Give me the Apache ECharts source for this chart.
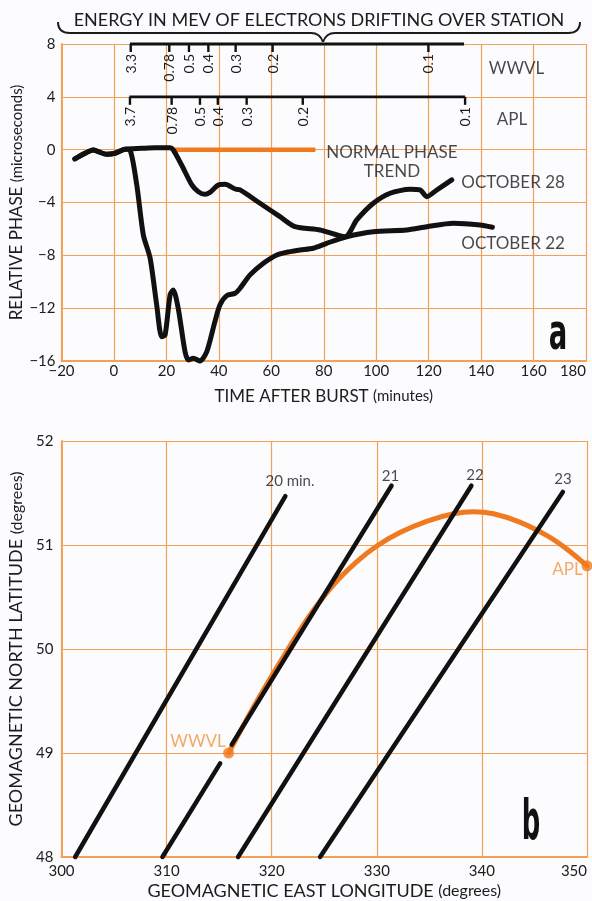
<!DOCTYPE html>
<html>
<head>
<meta charset="utf-8">
<title>Electron drift and VLF phase</title>
<script src="https://cdn.jsdelivr.net/npm/echarts@6/dist/echarts.min.js"></script>
<style>
  html, body { margin: 0; padding: 0; background: #fcfbfd; }
  #chart { width: 592px; height: 901px; }
</style>
</head>
<body>
<div id="chart"></div>
<script>
// ---------- Panel a: relative phase records (microseconds) ----------
const oct22Time  = [-14.9, -11.0, -7.9, -6.0, -2.8, 0.4, 4.2, 6.1, 8.7, 11.2, 13.8, 16.3, 18.2, 19.5, 21.4, 22.6, 24.5,
                    27.1, 28.4, 30.3, 32.8, 35.4, 38.5, 40.4, 43.0, 46.2, 48.1, 51.9, 57.0, 62.1, 67.1, 71.0, 76.0,
                    81.1, 88.7, 98.9, 111.6, 119.3, 129.4, 139.6, 144.3];
const oct22Phase = [-0.70, -0.27, -0.02, -0.15, -0.35, -0.27, 0.03, -0.02, -2.67, -6.46, -8.22, -11.76, -14.16, -14.03, -11.00, -10.62, -12.00,
                    -15.29, -15.92, -15.79, -16.0, -15.29, -13.02, -11.76, -11.05, -10.87, -10.49, -9.48, -8.60, -7.97, -7.72, -7.59, -7.46,
                    -7.09, -6.59, -6.21, -6.08, -5.83, -5.57, -5.70, -5.87];

const oct28Time  = [-14.9, -11.0, -7.9, -6.0, -2.8, 0.4, 4.2, 10.6, 15.7, 21.4, 22.6, 25.8, 29.7, 32.2, 34.7, 36.6, 39.8,
                    42.4, 46.2, 48.1, 55.7, 63.3, 69.0, 78.6, 88.1, 92.6, 98.9, 105.3, 112.9, 116.7, 119.3, 123.1, 128.8];
const oct28Phase = [-0.70, -0.27, -0.02, -0.15, -0.35, -0.27, 0.03, 0.10, 0.15, 0.15, -0.02, -1.16, -2.67, -3.18, -3.38, -3.23, -2.67,
                    -2.62, -2.98, -3.05, -4.06, -5.07, -5.83, -6.08, -6.59, -5.32, -4.06, -3.30, -3.00, -3.05, -3.56, -3.05, -2.29];

const trendTime  = [22.6, 76.8];
const trendPhase = [0, 0];

// Electron energy (MeV) reaching each station, placed on the time scale
const wwvlEnergy     = ['3.3', '0.78', '0.5', '0.4', '0.3', '0.2', '0.1'];
const wwvlEnergyTime = [6.4, 21.1, 28.6, 36.0, 46.4, 60.5, 119.9];
const wwvlScaleSpan  = [6.1, 133.5];
const aplEnergy      = ['3.7', '0.78', '0.5', '0.4', '0.3', '0.2', '0.1'];
const aplEnergyTime  = [6.1, 22.0, 32.8, 39.6, 50.6, 72.0, 133.9];
const aplScaleSpan   = [5.9, 133.9];

// ---------- Panel b: drift contours over the stations ----------
const contourName     = ['20 min.', '21', '22', '23'];
const contourStartLon = [301.3, 309.6, 316.8, 324.6];   // where each contour leaves 48 deg
const contourEndLon   = [321.3, 331.4, 339.0, 347.7];
const contourEndLat   = [51.47, 51.57, 51.57, 51.51];
const brokenContour   = 1;                               // the 21-min line stops short of WWVL
const contourGapLat   = [48.9, 49.08];

const pathLon = [315.9, 318.6, 321.5, 323.6, 325.9, 328.1, 330.0, 332.2, 334.8, 337.3, 339.2, 341.1, 343.6, 346.2, 348.1, 350.0];
const pathLat = [49.00, 49.50, 49.99, 50.32, 50.62, 50.84, 50.99, 51.12, 51.23, 51.30, 51.32, 51.30, 51.22, 51.09, 50.96, 50.80];

const stationName = ['WWVL', 'APL'];
const stationLon  = [315.9, 350.0];
const stationLat  = [49.0, 50.8];

// ---------- styling ----------
const FONT  = 'Lato, "Noto Sans", "DejaVu Sans", sans-serif';
const INK   = '#1c1c1c';
const LINE  = '#111111';
const GRID  = '#f2a257';
const TRACE = '#f07a20';
const STATION_TEXT = '#f3963f';

const minus = v => String(v).replace('-', '\u2212');
const pairs = (xs, ys) => xs.map((x, i) => [x, ys[i]]);

function phaseLine(time, phase) {
  return {
    type: 'line', xAxisIndex: 0, yAxisIndex: 0, data: pairs(time, phase),
    symbol: 'none', smooth: 0.25, clip: false, z: 4,
    lineStyle: { color: LINE, width: 5, cap: 'round', join: 'round' }
  };
}

function energyScale(times, labels, level, span) {
  return [
    {
      type: 'line', xAxisIndex: 0, yAxisIndex: 0, data: span.map(t => [t, level]),
      symbol: 'none', clip: false, z: 4, lineStyle: { color: LINE, width: 2.8 }
    },
    {
      type: 'custom', xAxisIndex: 0, yAxisIndex: 0, clip: false, z: 4, silent: true,
      data: times.map(t => [t, level]),
      renderItem: (params, api) => {
        const p = api.coord([api.value(0), api.value(1)]);
        return {
          type: 'group',
          children: [
            { type: 'line', shape: { x1: p[0], y1: p[1], x2: p[0], y2: p[1] + 8 },
              style: { stroke: LINE, lineWidth: 2.4 } },
            { type: 'text', x: p[0] + 0.5, y: p[1] + 10, rotation: Math.PI / 2,
              style: { text: labels[params.dataIndex], fill: INK, font: '14px ' + FONT,
                       align: 'right', verticalAlign: 'middle' } }
          ]
        };
      }
    }
  ];
}

function notes(idx, items) {
  return {
    type: 'scatter', xAxisIndex: idx, yAxisIndex: idx, symbolSize: 0.1, silent: true, clip: false, z: 6,
    itemStyle: { color: 'transparent' },
    data: items.map(n => ({
      value: n.at,
      label: Object.assign({ show: true, position: 'inside', formatter: n.text, color: INK,
                             fontFamily: FONT, fontSize: 17, lineHeight: 19 }, n.style || {})
    }))
  };
}

function contourSeries() {
  const out = [];
  contourName.forEach((name, i) => {
    const a = [contourStartLon[i], 48], b = [contourEndLon[i], contourEndLat[i]];
    const at = lat => [a[0] + (b[0] - a[0]) * (lat - 48) / (b[1] - 48), lat];
    const pieces = i === brokenContour ? [[a, at(contourGapLat[0])], [at(contourGapLat[1]), b]] : [[a, b]];
    pieces.forEach(seg => out.push({
      type: 'line', xAxisIndex: 1, yAxisIndex: 1, data: seg, symbol: 'none', clip: false, z: 4,
      lineStyle: { color: LINE, width: 4.5, cap: 'round' }
    }));
  });
  return out;
}

const axisLabelStyle = { color: INK, fontFamily: FONT, fontSize: 15, formatter: minus };
const nameStyle = size => ({ color: INK, fontFamily: FONT, fontSize: size,
                             rich: { s: { color: INK, fontFamily: FONT, fontSize: size - 2 } } });
const frame = { show: true, onZero: false, lineStyle: { color: GRID, width: 2 } };
const split = { show: true, lineStyle: { color: GRID, width: 1.2 } };

const option = {
  backgroundColor: '#fcfbfd',
  animation: false,
  textStyle: { fontFamily: FONT },
  grid: [
    { left: 61.5, top: 44, width: 524.5, height: 317, outerBoundsMode: 'none', containLabel: false },
    { left: 61.5, top: 441, width: 525.5, height: 416, outerBoundsMode: 'none', containLabel: false }
  ],
  xAxis: [
    { gridIndex: 0, type: 'value', min: -20, max: 180, interval: 20,
      axisLine: frame, axisTick: { show: false }, splitLine: split,
      axisLabel: Object.assign({ margin: 3, alignMaxLabel: 'right' }, axisLabelStyle),
      name: 'TIME AFTER BURST {s|(minutes)}', nameLocation: 'middle', nameGap: 27, nameMoveOverlap: false,
      nameTextStyle: nameStyle(17) },
    { gridIndex: 1, type: 'value', min: 300, max: 350, interval: 10,
      axisLine: frame, axisTick: { show: false }, splitLine: split,
      axisLabel: Object.assign({ margin: 7, alignMaxLabel: 'right' }, axisLabelStyle),
      name: 'GEOMAGNETIC EAST LONGITUDE {s|(degrees)}', nameLocation: 'middle', nameGap: 25, nameMoveOverlap: false,
      nameTextStyle: nameStyle(18) }
  ],
  yAxis: [
    { gridIndex: 0, type: 'value', min: -16, max: 8, interval: 4,
      axisLine: frame, axisTick: { show: false }, splitLine: split,
      axisLabel: Object.assign({ margin: 6 }, axisLabelStyle),
      name: 'RELATIVE PHASE {s|(microseconds)}', nameLocation: 'middle', nameRotate: 90, nameGap: 36,
      nameMoveOverlap: false, nameTextStyle: nameStyle(17) },
    { gridIndex: 1, type: 'value', min: 48, max: 52, interval: 1,
      axisLine: frame, axisTick: { show: false }, splitLine: split,
      axisLabel: Object.assign({ margin: 8 }, axisLabelStyle),
      name: 'GEOMAGNETIC NORTH LATITUDE {s|(degrees)}', nameLocation: 'middle', nameRotate: 90, nameGap: 36,
      nameMoveOverlap: false, nameTextStyle: nameStyle(18) }
  ],
  series: [
    // panel a
    {
      type: 'line', xAxisIndex: 0, yAxisIndex: 0, data: pairs(trendTime, trendPhase), symbol: 'none', z: 3,
      lineStyle: { color: TRACE, width: 4.5 }
    },
    phaseLine(oct22Time, oct22Phase),
    phaseLine(oct28Time, oct28Phase),
    ...energyScale(wwvlEnergyTime, wwvlEnergy, 8, wwvlScaleSpan),
    ...energyScale(aplEnergyTime, aplEnergy, 4, aplScaleSpan),
    notes(0, [
      { text: 'NORMAL PHASE\nTREND', at: [106.0, -0.97] },
      { text: 'OCTOBER 28', at: [152.2, -2.45] },
      { text: 'OCTOBER 22', at: [152.2, -7.14] },
      { text: stationName[0], at: [153.5, 6.18] },
      { text: stationName[1], at: [151.8, 2.25] }
    ]),
    // panel b
    {
      type: 'line', xAxisIndex: 1, yAxisIndex: 1, data: pairs(pathLon, pathLat), symbol: 'none',
      smooth: 0.35, clip: false, z: 3, lineStyle: { color: TRACE, width: 5, cap: 'round' }
    },
    ...contourSeries(),
    {
      type: 'scatter', xAxisIndex: 1, yAxisIndex: 1, data: pairs(stationLon, stationLat), symbolSize: 11,
      clip: false, z: 5, itemStyle: { color: TRACE }
    },
    notes(1, [
      { text: contourName[0], at: [321.74, 51.61], style: { fontSize: 15 } },
      { text: contourName[1], at: [331.30, 51.66], style: { fontSize: 15 } },
      { text: contourName[2], at: [339.34, 51.67], style: { fontSize: 15 } },
      { text: contourName[3], at: [347.72, 51.63], style: { fontSize: 15 } },
      { text: stationName[0], at: [312.99, 49.11], style: { color: STATION_TEXT } },
      { text: stationName[1], at: [348.14, 50.76], style: { color: STATION_TEXT } }
    ])
  ],
  graphic: [
    { type: 'text', x: 319, y: 20,
      style: { text: 'ENERGY IN MEV OF ELECTRONS DRIFTING OVER STATION', font: '18px ' + FONT, fill: INK,
               align: 'center', verticalAlign: 'middle' } },
    { type: 'bezierCurve', shape: { x1: 58, y1: 22, cpx1: 58, cpy1: 33, x2: 70, y2: 33 }, style: { stroke: INK, lineWidth: 2, fill: null } },
    { type: 'line', shape: { x1: 70, y1: 33, x2: 311, y2: 33 }, style: { stroke: INK, lineWidth: 2 } },
    { type: 'bezierCurve', shape: { x1: 311, y1: 33, cpx1: 320, cpy1: 33, x2: 323, y2: 42 }, style: { stroke: INK, lineWidth: 2, fill: null } },
    { type: 'bezierCurve', shape: { x1: 323, y1: 42, cpx1: 326, cpy1: 33, x2: 335, y2: 33 }, style: { stroke: INK, lineWidth: 2, fill: null } },
    { type: 'line', shape: { x1: 335, y1: 33, x2: 568, y2: 33 }, style: { stroke: INK, lineWidth: 2 } },
    { type: 'bezierCurve', shape: { x1: 568, y1: 33, cpx1: 580, cpy1: 33, x2: 580, y2: 22 }, style: { stroke: INK, lineWidth: 2, fill: null } },
    { type: 'text', x: 558, y: 336, scaleX: 0.55,
      style: { text: 'a', font: 'bold 50px "DejaVu Sans", sans-serif', fill: '#111', align: 'center', verticalAlign: 'middle' } },
    { type: 'text', x: 531, y: 825, scaleX: 0.47,
      style: { text: 'b', font: 'bold 55px "DejaVu Sans", sans-serif', fill: '#111', align: 'center', verticalAlign: 'middle' } }
  ]
};

const chart = echarts.init(document.getElementById('chart'), null, { renderer: 'canvas' });
chart.setOption(option);
</script>
</body>
</html>
